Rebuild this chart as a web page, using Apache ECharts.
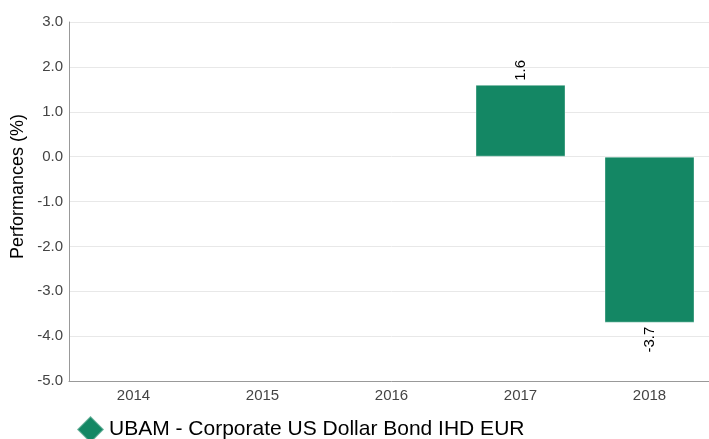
<!DOCTYPE html>
<html><head><meta charset="utf-8">
<script src="https://cdn.jsdelivr.net/npm/echarts@6/dist/echarts.min.js"></script>
<style>html,body{margin:0;padding:0;background:#fff;overflow:hidden}#c{width:714px;height:439px}</style>
</head><body><div id="c"></div>
<script>
var categories = ['2014', '2015', '2016', '2017', '2018'];
var values = [null, null, null, 1.6, -3.7];
var seriesName = 'UBAM - Corporate US Dollar Bond IHD EUR';
var yAxisTitle = 'Performances (%)';
var yTicks = [-5, 3, 1];

var FONT = 'Liberation Sans, Arial, sans-serif';
var chart = echarts.init(document.getElementById('c'));
chart.setOption({
  animation: false,
  textStyle: { fontFamily: FONT },
  grid: { left: 69, top: 22, right: 0, bottom: 58, containLabel: false },
  legend: {
    left: 76, top: 415, padding: 0, itemWidth: 27, itemHeight: 27,
    icon: 'diamond',
    textStyle: { fontSize: 21, color: '#000', fontFamily: FONT },
    data: [seriesName]
  },
  graphic: [{
    type: 'text', x: 18, y: 186.5, rotation: Math.PI / 2,
    style: { text: yAxisTitle, fontSize: 18, fill: '#000', fontFamily: FONT,
             align: 'center', verticalAlign: 'middle' }
  }],
  xAxis: {
    type: 'category', data: categories,
    axisLine: { onZero: false, lineStyle: { color: '#999' } },
    axisTick: { show: false },
    axisLabel: { color: '#444', fontSize: 15, margin: 7 }
  },
  yAxis: {
    type: 'value', min: yTicks[0], max: yTicks[1], interval: yTicks[2],
    axisLine: { show: true, lineStyle: { color: '#999' } },
    axisTick: { show: false },
    axisLabel: { color: '#444', fontSize: 15, margin: 6, formatter: function (v) { return v.toFixed(1); } },
    splitLine: { lineStyle: { color: '#e8e8e8' } }
  },
  series: [{
    name: seriesName, type: 'bar',
    data: values.map(function (v) {
      if (v === null) return null;
      return {
        value: v,
        label: v >= 0
          ? { position: 'top', align: 'left', verticalAlign: 'middle', distance: 4 }
          : { position: 'bottom', align: 'right', verticalAlign: 'middle', distance: 4 }
      };
    }),
    barWidth: 90,
    itemStyle: { color: '#148764', borderColor: 'rgba(255,255,255,0.35)', borderWidth: 1 },
    label: {
      show: true, rotate: 90, fontSize: 15, color: '#000', fontFamily: FONT,
      formatter: function (p) { return p.value.toFixed(1); }
    }
  }]
});
</script></body></html>
